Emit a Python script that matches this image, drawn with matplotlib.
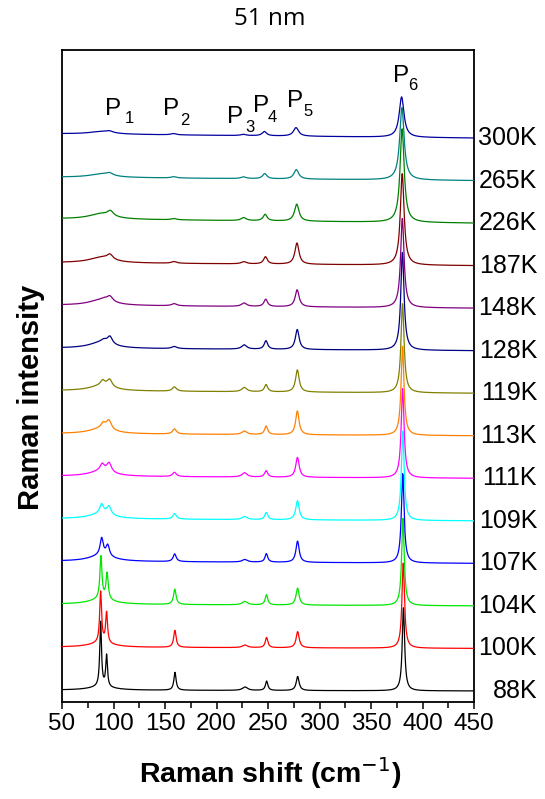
import numpy as np
import matplotlib
matplotlib.use("Agg")
import matplotlib.pyplot as plt
from matplotlib.transforms import blended_transform_factory
from matplotlib.ticker import MultipleLocator

plt.rcParams["font.family"] = ["Liberation Sans", "DejaVu Sans"]

# ---- spectra, bottom to top ----
temperatures = ["88K", "100K", "104K", "107K", "109K", "111K", "113K",
                "119K", "128K", "148K", "187K", "226K", "265K", "300K"]
colors = ["#000000", "#ff0000", "#00e600", "#0000ff", "#00ffff", "#ff00ff",
          "#ff8000", "#808000", "#000080", "#800080", "#800000", "#008000",
          "#008080", "#0000a0"]

# P1 doublet (low-frequency component a, high-frequency component b)
p1a_pos = [87.5, 87.5, 87.8, 88.5, 88.5, 89.0, 90.0, 89.5, 90.5, 91.0, 91.0, 91.0, 91.0, 91.0]
p1a_amp = [1.52, 1.2, 1.0, 0.4, 0.22, 0.16, 0.12, 0.12, 0.06, 0.03, 0.0, 0.0, 0.0, 0.0]
p1a_hw = [1.0, 1.1, 1.2, 1.8, 2.2, 2.5, 2.5, 2.5, 3.0, 3.0, 3.0, 3.0, 3.0, 3.0]
p1b_pos = [93.3, 93.3, 93.8, 94.4, 95.5, 95.7, 95.5, 96.2, 96.5, 96.5, 96.5, 97.0, 96.0, 96.0]
p1b_amp = [0.74, 0.72, 0.62, 0.26, 0.2, 0.22, 0.22, 0.18, 0.18, 0.13, 0.12, 0.12, 0.06, 0.04]
p1b_hw = [1.0, 1.1, 1.3, 2.0, 2.5, 2.8, 3.0, 3.0, 3.0, 3.5, 3.5, 3.5, 4.0, 4.0]
# broad low-frequency background under P1
bg_amp = [0.08, 0.1, 0.12, 0.14, 0.12, 0.12, 0.12, 0.12, 0.14, 0.13, 0.13, 0.13, 0.08, 0.06]
# baseline tilt (left end above right end)
tilt = [0.02, 0.03, 0.04, 0.05, 0.05, 0.05, 0.05, 0.06, 0.06, 0.07, 0.07, 0.1, 0.08, 0.1]

p2_pos = [159.7, 159.6, 159.5, 159.4, 159.3, 159.2, 159.2, 159.1, 159.0, 158.9, 158.8, 158.6, 158.4, 158.2]
p2_amp = [0.42, 0.4, 0.36, 0.18, 0.13, 0.1, 0.12, 0.1, 0.05, 0.05, 0.04, 0.03, 0.03, 0.03]
p2_hw = [1.3, 1.4, 1.5, 1.8, 2.0, 2.2, 2.2, 2.4, 3.0, 3.0, 3.0, 3.0, 3.0, 3.0]

p3_pos = [227.7, 227.6, 227.5, 227.4, 227.3, 227.2, 227.1, 227.0, 226.9, 226.8, 226.6, 226.4, 226.2, 226.0]
p3_amp = [0.08, 0.06, 0.08, 0.06, 0.07, 0.1, 0.08, 0.1, 0.1, 0.08, 0.05, 0.07, 0.04, 0.03]
p3_hw = [3.0] * 14

p4_pos = [248.7, 248.6, 248.5, 248.4, 248.3, 248.2, 248.2, 248.1, 248.0, 247.8, 247.5, 247.2, 246.8, 246.5]
p4_amp = [0.22, 0.24, 0.24, 0.2, 0.17, 0.15, 0.2, 0.17, 0.2, 0.17, 0.17, 0.15, 0.12, 0.1]
p4_hw = [1.4, 1.5, 1.5, 1.6, 1.7, 1.8, 1.8, 1.9, 2.0, 2.1, 2.2, 2.3, 2.5, 2.6]

p5_pos = [278.8, 278.8, 278.7, 278.7, 278.6, 278.6, 278.5, 278.5, 278.4, 278.3, 278.1, 277.9, 277.5, 277.2]
p5_amp = [0.33, 0.38, 0.4, 0.5, 0.45, 0.47, 0.56, 0.52, 0.47, 0.4, 0.5, 0.4, 0.22, 0.2]
p5_hw = [1.7, 1.8, 1.8, 1.9, 2.0, 2.0, 2.0, 2.1, 2.2, 2.3, 2.4, 2.6, 2.8, 3.0]

p6_pos = [381.5, 381.3, 381.0, 380.8, 380.8, 380.7, 380.6, 380.6, 380.5, 380.4, 380.3, 380.2, 380.0, 379.7]
p6_amp = [1.95, 2.0, 2.05, 2.1, 2.1, 2.1, 2.1, 2.1, 2.3, 2.1, 2.15, 2.2, 1.7, 0.95]
p6_hw = [1.4, 1.5, 1.5, 1.6, 1.6, 1.7, 1.7, 1.8, 1.9, 2.0, 2.2, 2.4, 2.6, 2.8]

peak_names = ["1", "2", "3", "4", "5", "6"]
x_ticks = [50, 100, 150, 200, 250, 300, 350, 400, 450]


def lorentz(x, x0, amp, hw):
    return amp / (1.0 + ((x - x0) / hw) ** 2)


shift = np.linspace(50, 450, 1601)

fig = plt.figure(figsize=(5.45, 7.99), dpi=100)
ax = fig.add_axes([62 / 545, 1 - 702 / 799, 412 / 545, 652 / 799])

for i in range(len(temperatures)):
    y = (i + tilt[i] * (450 - shift) / 400
         + lorentz(shift, 88.0, bg_amp[i], 14.0)
         + lorentz(shift, p1a_pos[i], p1a_amp[i], p1a_hw[i])
         + lorentz(shift, p1b_pos[i], p1b_amp[i], p1b_hw[i])
         + lorentz(shift, p2_pos[i], p2_amp[i], p2_hw[i])
         + lorentz(shift, p3_pos[i], p3_amp[i], p3_hw[i])
         + lorentz(shift, p4_pos[i], p4_amp[i], p4_hw[i])
         + lorentz(shift, p5_pos[i], p5_amp[i], p5_hw[i])
         + lorentz(shift, p6_pos[i], p6_amp[i], p6_hw[i]))
    ax.plot(shift, y, color=colors[i], lw=0.9, zorder=2 + i)

ax.set_xlim(50, 450)
ax.set_ylim(-0.26, 15.07)
ax.set_xticks(x_ticks)
ax.xaxis.set_minor_locator(MultipleLocator(25))
ax.set_yticks([])
ax.tick_params(axis="x", which="major", direction="out", length=5, width=1.1,
               labelsize=17.5, pad=3, top=False)
ax.tick_params(axis="x", which="minor", direction="out", length=4, width=1.1, top=False)
for s in ax.spines.values():
    s.set_linewidth(1.3)

# temperature labels at the right of each spectrum
trans = blended_transform_factory(ax.transAxes, ax.transData)
for i, t in enumerate(temperatures):
    ax.text(1.153, i, t, transform=trans, ha="right", va="center",
            fontsize=18, clip_on=False)

# peak labels: P with subscript index
p_label_xy = [(91.7, 13.54), (148.0, 13.54), (210.1, 13.35),
              (235.4, 13.61), (268.4, 13.73), (371.3, 14.32)]
sub_label_xy = [(111.1, 13.35), (164.6, 13.31), (227.6, 13.14),
                (249.9, 13.38), (283.9, 13.52), (385.9, 14.13)]
for name, (px, py), (sx, sy) in zip(peak_names, p_label_xy, sub_label_xy):
    ax.text(px, py, "P", ha="left", va="baseline", fontsize=17.5, zorder=30)
    ax.text(sx, sy, name, ha="left", va="baseline", fontsize=12, zorder=30)

fig.text(0.495, 1 - 19 / 799, "51 nm", ha="center", va="center",
         fontsize=17.5, family=["Open Sans", "DejaVu Sans"])
fig.text(0.495, 1 - 773 / 799, "Raman shift (cm$^{-1}$)", ha="center", va="center",
         fontsize=20.5, fontweight="bold")
fig.text(31 / 545, 1 - 397 / 799, "Raman intensity", ha="center", va="center",
         rotation=90, fontsize=21, fontweight="bold")

fig.savefig("out.png", dpi=100)
